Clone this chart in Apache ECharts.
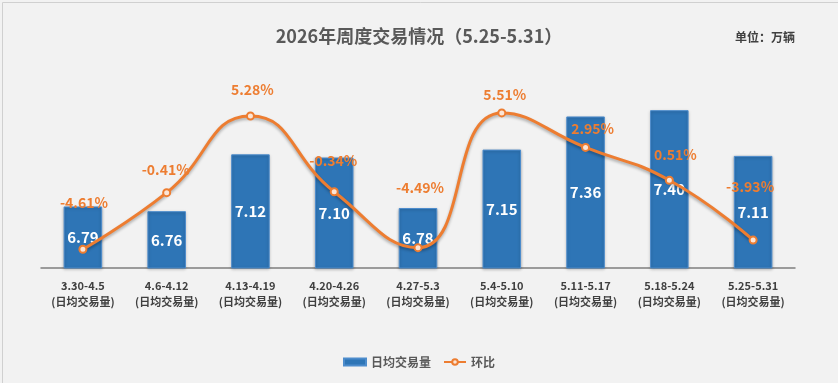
<!DOCTYPE html>
<html>
<head>
<meta charset="utf-8">
<script src="https://cdn.jsdelivr.net/npm/echarts@6/dist/echarts.min.js"></script>
<style>
    html, body { margin: 0; padding: 0; background: #f2f2f2; }
    #chart { width: 838px; height: 383px; }
</style>
</head>
<body>
<div id="chart"></div>
<script>
// 周度区间
const weeks = ['3.30-4.5', '4.6-4.12', '4.13-4.19', '4.20-4.26', '4.27-5.3', '5.4-5.10', '5.11-5.17', '5.18-5.24', '5.25-5.31'];
// 日均交易量（万辆）
const dailyVolume = [6.79, 6.76, 7.12, 7.10, 6.78, 7.15, 7.36, 7.40, 7.11];
// 环比（%）
const momRate = [-4.61, -0.41, 5.28, -0.34, -4.49, 5.51, 2.95, 0.51, -3.93];

// 环比标签偏移（仿原图手动摆放）
const rateLabelShift = [[1, -47], [-1, -23], [2, -26], [-1, -31], [2, -60], [3, -18], [7, -19], [6, -26], [-3, -53]];

const chart = echarts.init(document.getElementById('chart'));
const FONT = '"Noto Sans CJK SC", "Microsoft YaHei", sans-serif';

const option = {
    backgroundColor: '#f2f2f2',
    textStyle: { fontFamily: FONT },
    graphic: [{
        type: 'rect',
        left: 0, top: 0,
        shape: { width: 837, height: 382 },
        style: { fill: 'none', stroke: '#d0d0d0', lineWidth: 1 },
        silent: true
    }],
    title: [
        {
            text: '2026年周度交易情况（5.25-5.31）',
            left: 414, top: 22, textAlign: 'center',
            textStyle: { fontSize: 18, fontWeight: 'bold', color: '#595959', fontFamily: FONT }
        },
        {
            text: '单位：万辆',
            left: 730, top: 26,
            textStyle: { fontSize: 12, fontWeight: 'bold', color: '#404040', fontFamily: FONT }
        }
    ],
    legend: {
        bottom: 10,
        left: 'center',
        itemGap: 12,
        itemWidth: 22,
        itemHeight: 7,
        textStyle: { fontSize: 12, fontWeight: 'bold', color: '#595959', fontFamily: FONT },
        data: [{ name: '日均交易量', icon: 'rect' }, { name: '环比' }]
    },
    grid: { left: 41, right: 43, top: 47, bottom: 115 },
    xAxis: {
        type: 'category',
        data: weeks,
        axisTick: { show: false },
        axisLine: { onZero: false, lineStyle: { color: '#7f7f7f', width: 1.5 } },
        axisLabel: {
            interval: 0,
            margin: 10,
            lineHeight: 16,
            fontSize: 11,
            fontWeight: 'bold',
            color: '#404040',
            formatter: v => v + '\n(日均交易量)'
        }
    },
    yAxis: [
        { type: 'value', min: 6.4, max: 7.8, show: false, splitLine: { show: false } },
        { type: 'value', min: -6, max: 10.4, show: false, splitLine: { show: false } }
    ],
    series: [
        {
            name: '日均交易量',
            type: 'bar',
            barWidth: '46%',
            data: dailyVolume,
            itemStyle: {
                color: '#2e75b6',
                borderColor: '#4d8ccc',
                borderWidth: 1,
                shadowColor: 'rgba(0,0,0,0.25)',
                shadowBlur: 3,
                shadowOffsetY: 1
            },
            label: {
                show: true,
                position: 'inside',
                color: '#ffffff',
                fontSize: 15,
                fontWeight: 'bold',
                formatter: p => p.value.toFixed(2)
            }
        },
        {
            name: '环比',
            type: 'line',
            yAxisIndex: 1,
            smooth: 0.5,
            symbol: 'circle',
            symbolSize: 7,
            data: momRate.map((v, i) => ({
                value: v,
                label: { offset: rateLabelShift[i] }
            })),
            lineStyle: {
                color: '#ed7d31',
                width: 3,
                shadowColor: 'rgba(0,0,0,0.3)',
                shadowBlur: 3,
                shadowOffsetY: 2
            },
            itemStyle: { color: '#fbe5d6', borderColor: '#ed7d31', borderWidth: 2 },
            label: {
                show: true,
                position: 'inside',
                color: '#ed7d31',
                fontSize: 14,
                fontWeight: 'bold',
                formatter: p => p.value.toFixed(2) + '%'
            },
            z: 5
        }
    ]
};

chart.setOption(option);
</script>
</body>
</html>
